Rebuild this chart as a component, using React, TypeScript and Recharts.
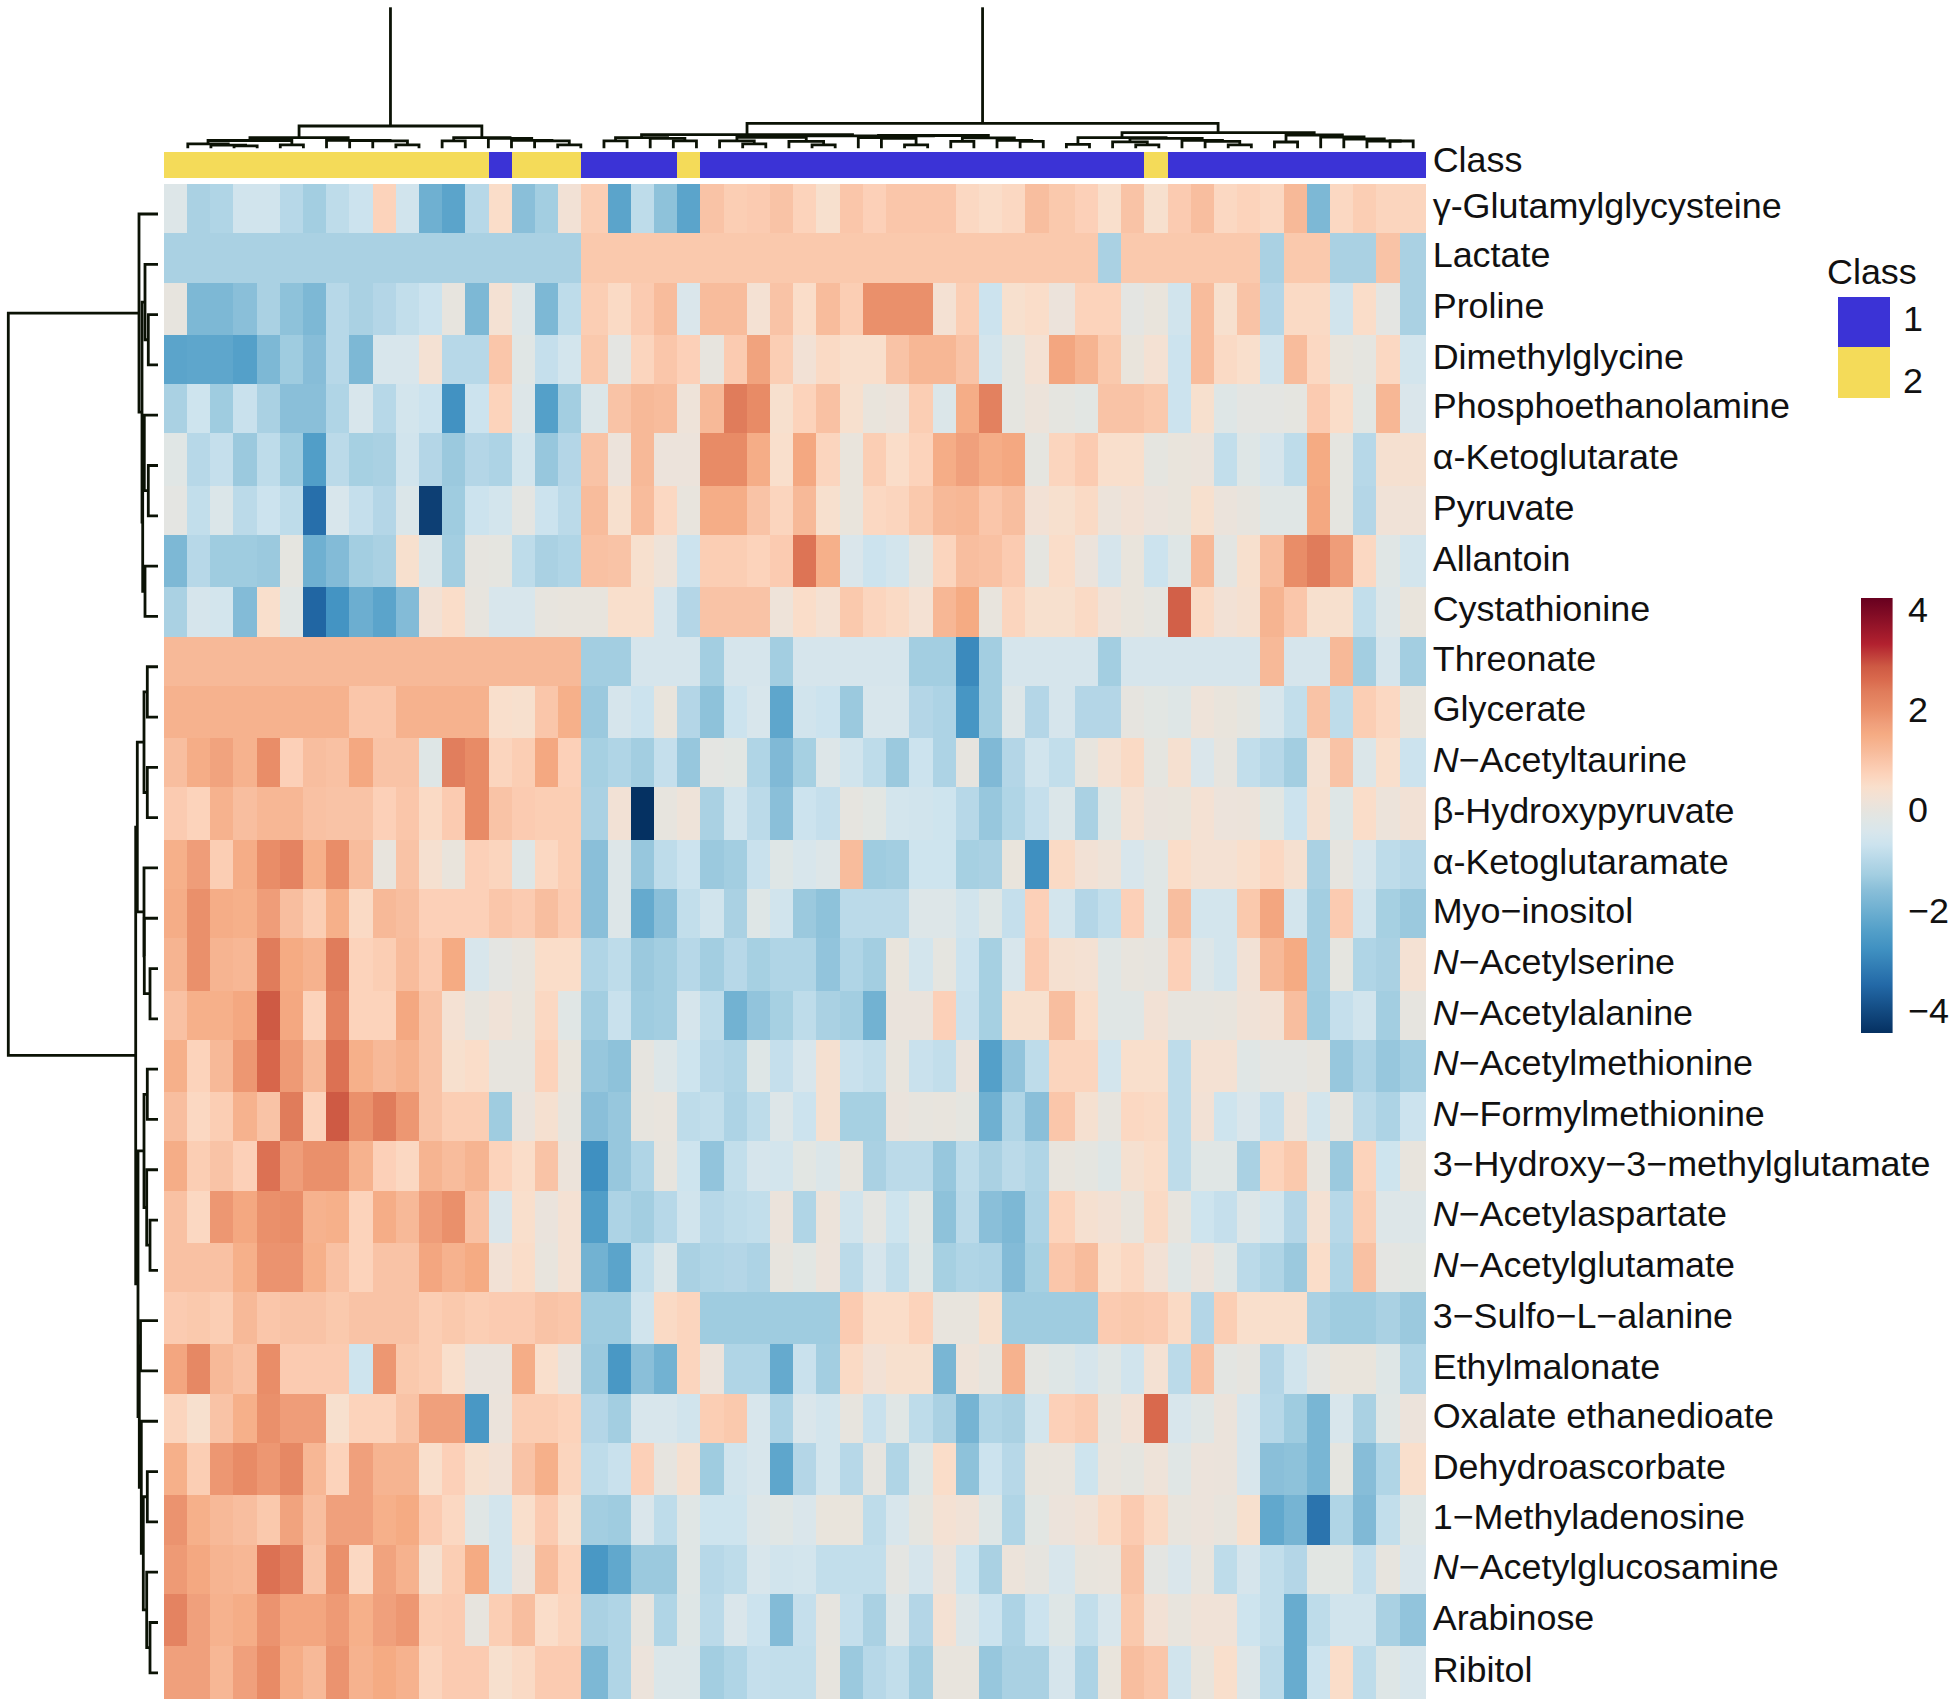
import React from "react";
import { ScatterChart, Scatter, XAxis, YAxis, ReferenceArea } from "recharts";

const rowNames = ["γ-Glutamylglycysteine","Lactate","Proline","Dimethylglycine","Phosphoethanolamine","α-Ketoglutarate","Pyruvate","Allantoin","Cystathionine","Threonate","Glycerate","N−Acetyltaurine","β-Hydroxypyruvate","α-Ketoglutaramate","Myo−inositol","N−Acetylserine","N−Acetylalanine","N−Acetylmethionine","N−Formylmethionine","3−Hydroxy−3−methylglutamate","N−Acetylaspartate","N−Acetylglutamate","3−Sulfo−L−alanine","Ethylmalonate","Oxalate ethanedioate","Dehydroascorbate","1−Methyladenosine","N−Acetylglucosamine","Arabinose","Ribitol"];

const classes = [2,2,2,2,2,2,2,2,2,2,2,2,2,2,1,2,2,2,1,1,1,1,2,1,1,1,1,1,1,1,1,1,1,1,1,1,1,1,1,1,1,1,2,1,1,1,1,1,1,1,1,1,1,1];

const r01 = [-.3,-1.2,-1.1,-.6,-.6,-1,-1.3,-.9,-.7,.7,-.6,-2,-2.3,-1,.5,-1.6,-1.3,.25,.8,-2.3,-.9,-1.55,-2.3,1,.8,.85,1,.7,.4,.95,.75,.95,.95,.95,.6,.5,.6,1.1,.9,.75,.45,1,.4,.85,1.1,.6,.7,.6,1.2,-1.8,.6,.8,.65,.65];
const r02 = [-1.2,-1.2,-1.2,-1.2,-1.2,-1.2,-1.2,-1.2,-1.2,-1.2,-1.2,-1.2,-1.2,-1.2,-1.2,-1.2,-1.2,-1.2,.9,.9,.9,.9,.9,.9,.9,.9,.9,.9,.9,.9,.9,.9,.9,.9,.9,.9,.9,.9,.9,.9,-1.2,.9,.9,.9,.9,.9,.9,-1.2,.9,.9,-1.2,-1.2,1,-1.2];
const r03 = [0,-1.8,-1.8,-1.6,-1.2,-1.55,-1.8,-1,-1.2,-1.05,-.85,-.7,0,-1.8,.3,-.3,-1.8,-.9,.8,.55,.85,1.15,-.4,1.15,1.15,.3,1,.5,1.15,.8,1.95,1.95,1.95,.3,.8,-.7,.4,.5,.1,.7,.7,-.1,.05,-.6,1.15,.4,1,-1.05,.55,.55,-.6,.5,-.1,-1.2];
const r04 = [-2.3,-2.25,-2.25,-2.4,-1.8,-1.35,-1.65,-1,-1.8,-.45,-.45,.3,-1,-1,.95,-.2,-.8,-.55,.9,-.1,.65,.95,.75,0,.85,1.65,.8,.25,.55,.45,.45,1,1.25,1.25,1,-.55,-.05,.3,1.6,1.3,.9,.05,.3,-.7,1.15,.55,.45,-.6,1.15,.6,.05,-.05,.6,-.55];
const r05 = [-1.2,-.65,-1.35,-.75,-1.2,-1.6,-1.6,-1.1,-.45,-1,-.55,-.7,-2.75,-.7,.7,-.3,-2.4,-1.3,-.35,1,1.2,1.15,.15,1.2,2.35,2.05,.4,.7,1.05,.4,.05,.12,.8,-.35,1.45,2.25,-.05,.12,-.05,-.15,1,1,.9,-.7,.4,-.25,-.1,-.1,-.05,.85,.5,-.15,1.25,-.4];
const r06 = [-.2,-1,-.8,-1.4,-.9,-1.35,-2.45,-.95,-1.25,-1.2,-.6,-1.05,-1.4,-1.05,-1.15,-.55,-1.45,-1.05,1,.1,1.2,.1,.1,2.05,2.05,1.45,.45,1.55,.65,.05,.8,.5,.7,1.45,1.7,1.45,1.55,-.05,.65,.85,.45,.45,-.05,.05,.08,-.85,-.25,-.5,-.9,1.5,-.05,-1,.35,.35];
const r07 = [-.1,-.85,-.35,-.95,-.7,-.9,-3.4,-.45,-.8,-1.05,-.35,-4.2,-1.35,-.7,-.55,-.1,-.7,-.95,1.15,.4,1.15,.6,.02,1.45,1.45,1,.65,1.2,.4,.05,.6,.65,.9,1.2,1.25,.95,1.1,.25,.4,.55,.12,.25,.1,.05,.4,.08,0,-.2,-.2,1.55,-.05,-1.05,.2,.2];
const r08 = [-1.8,-1,-1.35,-1.35,-1.4,-.05,-2,-1.7,-1.3,-1.2,.4,-.35,-1.3,-.02,-.05,-.9,-1.2,-1.1,1.05,1,.4,.15,-.7,.8,.8,.7,.85,2.45,1.4,-.4,-.7,-.55,0,.65,1.1,1.05,.85,-.05,.5,.1,-.5,.05,-.7,-.25,1.2,-.12,.4,1.1,2,2.35,1.75,.6,-.2,-.55];
const r09 = [-1.2,-.5,-.55,-1.7,.45,-.2,-3.55,-2.7,-2.05,-2.3,-1.7,.25,.5,0,-.45,-.45,0,.02,.02,.45,.45,-.5,-1.05,1,1,1,.15,.5,.3,.9,.65,.55,.3,1.25,1.5,.02,.65,.4,.4,.55,.2,.05,-.07,2.75,.55,.25,.35,1.3,.95,.4,.4,-.85,-.3,.05];
const r10 = [1.2,1.2,1.2,1.2,1.2,1.2,1.2,1.2,1.2,1.2,1.2,1.2,1.2,1.2,1.2,1.2,1.2,1.2,-1.3,-1.3,-.5,-.5,-.5,-1.3,-.5,-.5,-1.3,-.5,-.5,-.5,-.5,-.5,-1.3,-1.3,-2.9,-1.3,-.5,-.5,-.5,-.5,-1.3,-.5,-.5,-.5,-.5,-.5,-.5,1.2,-.5,-.5,1.2,-1.3,-.5,-1.3];
const r11 = [1.35,1.35,1.35,1.35,1.35,1.35,1.35,1.35,.95,.95,1.35,1.35,1.35,1.35,.45,.4,.95,1.4,-1.4,-.5,-.7,.05,-1.05,-1.55,-.7,-.45,-2.25,-.6,-.7,-1.4,-.45,-.45,-1.05,-1.15,-2.65,-1.3,-.3,-1.05,-.5,-1.05,-1.05,-.02,-.15,-.25,.15,.05,-.05,-.45,-.85,1,-.9,.8,.6,.05];
const r12 = [1.1,1.45,1.65,1.35,2,.75,1.1,1.05,1.55,1,1,-.25,2.3,2.05,.65,.8,1.55,.75,-1.25,-1.1,-1.3,-.8,-1.45,-.1,-.15,-1.1,-1.75,-1.25,-.3,-.6,-.9,-1.4,-.7,-1.15,-.02,-1.75,-1.05,-.6,-.85,0,.3,.55,-.05,.35,-.4,0,-.85,-1,-1.3,.3,1,-.35,.45,-.7];
const r13 = [.85,.7,1.35,1.1,1.25,1.25,1.05,1,1,.75,.95,.55,.85,2.05,1,.85,.8,.8,-1.2,.25,-4.45,0,.15,-1.2,-.6,-.95,-1.6,-.7,-.8,-.02,-.15,-.55,-.6,-.65,-1,-1.45,-1.1,-.8,-.35,-1.2,-.25,.3,.07,.05,.3,.1,.12,-.15,-.7,.35,-.25,.5,.12,.25];
const r14 = [1.4,1.75,.8,1.45,2,2.2,1.4,2,1.15,.03,1,.35,.05,.75,.65,-.25,.6,.8,-1.6,-.3,-1.45,-.9,-.7,-1.4,-1.3,-.75,-.25,-.45,-.3,1.15,-1.35,-1.3,-.65,-.65,-1.25,-1.2,.05,-2.8,.55,.25,.15,-.45,-.2,.5,.3,.3,.45,.6,.35,-1.2,-.03,-.45,-.9,-1];
const r15 = [1.45,1.95,1.45,1.4,1.75,1.1,.8,1.4,.55,1.2,1.1,.75,.75,.75,.95,.85,1.1,.85,-1.6,-.3,-2.15,-1.6,-.85,-.6,-1.2,-.25,-.6,-1.4,-1.55,-.95,-.95,-.95,-.3,-.3,-.6,-.25,-.8,.75,-.55,-1.05,-.85,.75,-.2,1.1,-.55,-.55,.9,1.6,-.55,-1.3,.85,-.6,-1.25,-1.4];
const r16 = [1.3,1.95,1.3,1.25,2.35,1.5,1.35,2.35,.7,.8,1.15,.85,1.5,-.45,-.1,.03,.5,.5,-1.1,-.9,-1.4,-1.3,-1,-1.3,-1,-1.25,-1.1,-1.1,-1.5,-1.1,-1.3,.05,-.55,-.05,-.7,-1.25,-.45,.85,.35,.3,-.2,.03,-.03,.75,-.3,-.55,.25,1.2,1.5,-1.3,-.07,-1.1,-1.2,.3];
const r17 = [1.05,1.4,1.4,1.55,2.85,1.55,.7,2.2,.7,.7,1.55,1,.3,.02,.2,.05,.6,-.2,-1.3,-.75,-1.35,-1.3,-.5,-.9,-1.95,-1.5,-1.25,-.9,-1.2,-1.3,-1.95,.07,.07,.75,-.75,-1.25,.4,.4,1.1,.5,-.2,-.2,.25,.01,.01,.03,.2,.25,1.1,-1.35,-.8,-.6,-1.3,-.03];
const r18 = [1.4,.7,1.2,1.85,2.65,1.8,1.2,2.5,1.4,1.2,1.35,1,.4,.5,-.01,-.01,.7,.05,-1.45,-1.55,-.03,-.3,-.65,-1,-1.1,-.25,-.8,-.45,.35,-.75,-.85,.03,-.75,-.85,.1,-2.4,-1.5,-.9,.65,.65,-.55,.45,.45,-.9,.3,.3,-.2,-.1,-.1,0,-1.45,-1.15,-1.45,-1.3];
const r19 = [1.1,.6,.8,1.35,1,2.35,.7,2.85,1.95,2.35,1.85,1,.8,.8,-1.35,.07,.35,0,-1.6,-1.45,0,.04,-.9,-.85,-1.15,-.9,-.3,-.7,.35,-1.25,-1.25,.07,0,.02,-.05,-2,-1.1,-1.6,.95,.35,.01,.6,.55,-.9,.25,-.65,-.4,-.8,.12,-.55,-.02,-.95,-1.15,-.7];
const r20 = [1.45,.8,1,.75,2.5,1.75,1.95,1.95,1.35,.75,.6,1.3,1.15,1.3,.7,.5,1,.12,-2.8,-1.45,-1.1,.01,-.65,-1.5,-.85,-.5,-.55,-.15,-.35,0,-1.2,-.95,-.95,-1.45,-.9,-1.2,-.95,-1.1,.03,-.05,-.25,.35,.5,-.9,-.2,-.2,-1.2,.7,.9,0,-1.4,.7,-.65,.03];
const r21 = [1.05,.6,1.85,1.55,1.95,2,1.35,1.4,.7,1.45,1.2,1.75,1.95,1.05,-.4,.45,.07,.3,-2.45,-1.15,-1.3,-1,-.6,-1,-.9,-.85,.08,-1.1,.12,-.6,-.1,-.65,-.2,-1.55,-.95,-1.6,-1.8,-1.15,.7,.35,.25,.03,.55,0,-.65,-.8,-.3,-.55,-1.05,.3,-1,.8,-.3,-.3];
const r22 = [1.05,1.05,1.05,1.4,1.9,1.9,1.4,1.05,.7,1,1,1.6,1.35,1.5,.25,.5,.03,.3,-1.95,-2.3,-.85,-.35,-1.2,-1.1,-1.05,-1.15,0,-.15,.1,-.95,-.5,-.85,-.25,-1.25,-1.1,-1.15,-1.7,-1.25,.95,1.15,.45,.6,.25,-.2,.1,-.2,-.95,-1.1,-1.4,.5,-1.1,1.05,-.1,-.15];
const r23 = [.85,.9,.8,1.2,.95,1,1,.9,1,1,1,.8,.9,.8,.85,.85,1,.95,-1.35,-1.35,-.6,.55,.65,-1.35,-1.35,-1.35,-1.35,-1.35,-1.35,.85,.5,.5,.7,.03,.03,.4,-1.35,-1.35,-1.35,-1.35,.85,.9,.85,.55,-1.05,.8,.45,.45,.45,-1.2,-1.35,-1.35,-1.2,-1.4];
const r24 = [1.6,2.1,1.2,1.05,2,.85,.85,.85,-.65,1.85,.9,.8,.45,.07,.07,1.45,.45,.07,-1.4,-2.6,-1.6,-1.95,.65,.1,-1.1,-1.1,-2.15,-.75,-1.3,.55,.25,.4,.4,-1.85,.15,0,1.35,-.08,-.25,-.5,-.2,-.6,.3,-.95,1.05,-.12,-.02,-1.05,-.6,-.1,.05,.05,-.25,-1.1];
const r25 = [.65,.4,1,1.4,1.95,1.75,1.75,.4,.7,.7,1,1.7,1.7,-2.6,.08,.8,.8,.7,-1.05,-1.3,-.45,-.45,-.6,.8,.9,-.45,-1.15,-.4,-.55,0,-.75,-.2,-.9,-1.2,-1.9,-1.1,-1.2,-.55,.75,.85,0,.25,2.6,-.45,-.2,.08,-.45,-1,-1.35,-1.85,-.45,-1.2,-.2,.1];
const r26 = [1.4,.8,1.85,2.05,1.85,2.1,1.25,.7,1.7,1.3,1.3,.45,.75,.4,.25,1,1.4,.65,-.9,-.75,.75,-.03,.35,-1.35,-.6,-.45,-2.25,-1.05,-.55,-1,-.03,-1.1,-.25,.5,-1.55,-.7,-1,.02,.04,-.65,.04,-.05,.15,-.2,.1,.08,-.45,-1.6,-1.55,-1.85,-.07,-1.65,-1.1,.45];
const r27 = [1.9,1.4,1.2,1.1,.9,1.65,1.1,1.7,1.7,1.4,1.5,.85,.6,-.2,-.55,.45,.85,.45,-1.3,-1.35,-.4,-.9,-.2,-.65,-.65,-.3,-.2,-.4,.05,.05,-.9,-.45,-.05,.3,.2,-.25,-1.1,-.15,.1,.2,.55,.85,.55,.02,.1,.02,.4,-2.2,-1.9,-3.3,-1.1,-1.75,-.85,-.25];
const r28 = [1.8,1.55,1.3,1.25,2.5,2.3,1,1.95,.6,1.65,1.35,.35,.8,1.5,-.55,.1,1.15,.7,-2.6,-2.2,-1.4,-1.4,-.2,-1,-.9,-.45,-.6,-.55,-.85,-.85,-.85,-.1,-.5,.1,-.65,-1.2,.12,-.03,-.45,.02,.04,1,-.1,-.4,.04,-.9,-.5,-.85,-1.05,-.15,-.15,-.8,0,-.4];
const r29 = [2.2,1.7,1.35,1.45,1.9,1.6,1.6,1.8,1.4,1.7,1.85,.8,.85,0,.8,1.1,.5,.65,-1.2,-1.1,-.02,-1.1,-.25,-.95,-.4,-.7,-1.7,-.8,-.03,-.8,-1.2,-.3,-1.05,.3,-.3,-.7,-1.15,-.7,-.25,-.85,-.45,.9,.25,.02,.2,.2,-.65,-.85,-2.1,-.9,-.6,-.6,-1.2,-1.5];
const r30 = [1.7,1.7,1.25,1.7,2.05,1.45,1.2,1.9,1.35,1.5,1.35,.65,.85,.85,.4,.55,.85,.85,-1.8,-1.1,.1,-.35,-.35,-1.3,-1.1,-.8,-.85,-.85,.01,-1.4,-1,-.85,-1.3,.03,.03,-1.45,-1.2,-1.2,-.5,-1.15,.05,1.1,.95,-.6,.05,.45,-.3,-.95,-2.1,-.7,.5,-.9,-.25,-.45];
const rowValues = [r01,r02,r03,r04,r05,r06,r07,r08,r09,r10,r11,r12,r13,r14,r15,r16,r17,r18,r19,r20,r21,r22,r23,r24,r25,r26,r27,r28,r29,r30];

type Tree = number | [number, Tree, Tree];
const colLeftCluster: Tree = [22.3,
  [10.6,[7.8,[4.5,1,[3.2,2,[2.5,3,4]]],[3.5,5,6]],[8,7,[7.8,8,[7.5,9,[3.5,10,11]]]]],
  [10.6,[7.5,12,13],[10,14,[8,15,[7.5,16,[3.5,17,18]]]]]];
const colRightCluster: Tree = [25,
  [13.6,
    [10.6,[7.5,19,20],[10,21,[7.5,22,23]]],
    [12.5,
      [11,[7.5,24,[4.5,25,26]],[7,27,[3.5,28,29]]],
      [12.8,[10.8,30,[10,31,[3.5,32,33]]],[10.5,[7,34,35],[8,36,[7,37,38]]]]]],
  [15.7,
    [10.6,[4,39,40],[10,[6.5,41,[3.5,42,43]],[8,44,[7,45,[3.5,46,47]]]]],
    [13.3,[6.3,48,49],[11.3,50,[9.3,51,[7.3,52,[7.3,53,54]]]]]]];
const rowTree: Tree = [149.7,
  [19,1,[16,[13,2,[9.7,3,4]],[15.3,[13.7,5,[9.7,6,7]],[13,8,9]]]],
  [22.3,
    [20.7,[14,[10.7,10,11],[10.7,12,13]],[14,14,[13.7,15,[8,16,17]]]],
    [20,[14,[10.7,18,19],[11.3,20,[8,21,22]]],
      [18.7,[17.5,23,24],[16.7,25,[14.7,[10.7,26,27],[11.3,28,[8,29,30]]]]]]]];
const STEM_HEIGHT = 141;

const paletteStops: [number, string][] = [[-4.46,"#053061"],[-3.5,"#2369A7"],[-2.8,"#3F90C1"],[-2.4,"#54A0C9"],[-2,"#6FB0D1"],[-1.6,"#8ABFD9"],[-1.3,"#A3CEE1"],[-1,"#B7D8E8"],[-.7,"#CCE3EE"],[-.45,"#D8E6EC"],[-.2,"#E0E6E5"],[0,"#E7E4DE"],[.2,"#F0E2D7"],[.45,"#F9DFCC"],[.7,"#FCD3BB"],[.95,"#FAC6AA"],[1.2,"#F7B998"],[1.5,"#F5AB83"],[1.7,"#F0A07C"],[2,"#E98D68"],[2.35,"#E07C5B"],[2.6,"#D9694D"],[2.85,"#CE5A44"],[3.3,"#B2212F"],[4.22,"#67001F"]];
const classColors: Record<number,string> = {1:"#3B33D6",2:"#F4DB59"};
const colorTicks = [-4,-2,0,2,4];
const INK = "#0b1205";
const FONT = "'Liberation Sans', Arial, sans-serif";
const FS = 35.9;

// the reference raster has a few slightly wider rows and columns
const wideCols = [19,39,54];
const wideRows = [3,6,8,11,13,16,18,21,23,26,29,30];
const colWidths = classes.map((_,i)=>wideCols.includes(i+1)?26.1:23.21);
const rowHeights = rowNames.map((_,i)=>wideRows.includes(i+1)?52.25:49.3);
function centers(sizes:number[]){let a=0;return sizes.map(s=>{const c=a+s/2;a+=s;return c;});}
const colCenters = centers(colWidths);
const rowCenters = centers(rowHeights);
const TOTAL_W = colWidths.reduce((a,b)=>a+b,0);
const TOTAL_H = rowHeights.reduce((a,b)=>a+b,0);
const PLOT_L = 163.7;
const RIGHT_GAP = 1957-PLOT_L-TOTAL_W-500;

function hex(c: string){return [1,3,5].map(i=>parseInt(c.slice(i,i+2),16));}
function colorOf(v: number){
  const s = paletteStops;
  if (v<=s[0][0]) return s[0][1];
  for (let i=1;i<s.length;i++){
    if (v<=s[i][0]){
      const t=(v-s[i-1][0])/(s[i][0]-s[i-1][0]);
      const a=hex(s[i-1][1]),b=hex(s[i][1]);
      return `rgb(${a.map((x,k)=>Math.round(x+(b[k]-x)*t)).join(",")})`;
    }
  }
  return s[s.length-1][1];
}

type Seg = {x:number;y:number}[];
function walk(t: Tree, out: Seg[]): [number, number] {
  if (typeof t === "number") return [t, 0];
  const [h,l,r]=t;
  const [lp,lh]=walk(l,out);
  const [rp,rh]=walk(r,out);
  out.push([{x:lp,y:lh},{x:lp,y:h},{x:rp,y:h},{x:rp,y:rh}]);
  return [(lp+rp)/2,h];
}
const colSegs: Seg[] = [];
for (const c of [colLeftCluster,colRightCluster]) {
  const [p,h]=walk(c,colSegs);
  colSegs.push([{x:p,y:h},{x:p,y:STEM_HEIGHT}]);
}
const rowSegsRaw: Seg[] = [];
walk(rowTree,rowSegsRaw);
const rowSegs = rowSegsRaw.map(s=>s.map(p=>({x:p.y,y:p.x})));

const heatCells = rowValues.flatMap((vals,r)=>vals.map((v,c)=>({x:colCenters[c],y:rowCenters[r],value:v,w:colWidths[c],h:rowHeights[r]})));
const classCells = classes.map((k,c)=>({x:colCenters[c],y:.5,value:k,w:colWidths[c]}));
const legendCells = [1,2].map(k=>({x:.5,y:k,value:k}));
const colorMarks = colorTicks.map(t=>({x:.5,y:t}));

const HeatCell = (p:any)=>{
  const {w,h,value}=p.payload;
  return <rect x={p.cx-w/2} y={p.cy-h/2} width={w+.5} height={h+.5} fill={colorOf(value)} shapeRendering="crispEdges" />;
};
const ClassCell = (p:any)=>(
  <rect x={p.cx-p.payload.w/2} y={p.cy-13} width={p.payload.w+.5} height={26} fill={classColors[p.payload.value]} shapeRendering="crispEdges" />
);
const LegendCell = (p:any)=>(
  <rect x={p.cx-26} y={p.cy-25.4} width={52} height={50.8} fill={classColors[p.payload.value]} shapeRendering="crispEdges" />
);
const NoDot = ()=><g/>;

function labelParts(name:string){
  if (name.startsWith("N−")) return <><tspan fontStyle="italic">N</tspan>{name.slice(1)}</>;
  return name;
}
const RowTick = (p:any)=>{
  const i = rowCenters.indexOf(p.payload.value);
  return <text x={p.x-1} y={p.y+9.5} fontFamily={FONT} fontSize={FS} fill="#111">{labelParts(rowNames[i])}</text>;
};
const ClassTick = (p:any)=>(
  <text x={p.x-1} y={p.y+6.7} fontFamily={FONT} fontSize={FS} fill="#111">Class</text>
);
const LegendTick = (p:any)=>(
  <text x={p.x+5} y={p.y+(p.payload.value===1?9:20)} fontFamily={FONT} fontSize={FS} fill="#111">{p.payload.value}</text>
);
const ColorTick = (p:any)=>(
  <text x={p.x+7.5} y={p.y+12.9} fontFamily={FONT} fontSize={FS} fill="#111">{String(p.payload.value).replace("-","−")}</text>
);

const box = (left:number,top:number):React.CSSProperties=>({position:"absolute",left,top});

export default function App(){
  return (
    <div style={{position:"absolute",left:0,top:0,width:1957,height:1708,background:"#fff",overflow:"hidden"}}>
      <div style={box(160,0)}>
        <ScatterChart width={1280} height={152} margin={{top:0,right:0,bottom:0,left:0}}>
          <XAxis type="number" dataKey="x" domain={[-0.2024,55.16]} hide allowDataOverflow/>
          <YAxis type="number" dataKey="y" domain={[-3.7,148.3]} hide allowDataOverflow/>
          {colSegs.map((s,i)=>(
            <Scatter key={i} data={s} line={{stroke:INK,strokeWidth:2.8}} lineType="joint" shape={NoDot} isAnimationActive={false}/>
          ))}
        </ScatterChart>
      </div>
      <div style={box(0,140)}>
        <ScatterChart width={1957} height={44} margin={{top:12,right:RIGHT_GAP,bottom:6,left:PLOT_L}}>
          <XAxis type="number" dataKey="x" domain={[0,TOTAL_W]} hide/>
          <YAxis type="number" dataKey="y" domain={[0,1]} orientation="right" width={500} ticks={[.5]} axisLine={false} tickLine={false} tick={ClassTick} interval={0}/>
          <Scatter data={classCells} shape={ClassCell} isAnimationActive={false}/>
        </ScatterChart>
      </div>
      <div style={box(0,180)}>
        <ScatterChart width={1957} height={1528} margin={{top:4,right:RIGHT_GAP,bottom:1528-4-TOTAL_H,left:PLOT_L}}>
          <XAxis type="number" dataKey="x" domain={[0,TOTAL_W]} hide/>
          <YAxis type="number" dataKey="y" domain={[0,TOTAL_H]} reversed orientation="right" width={500} ticks={rowCenters} axisLine={false} tickLine={false} tick={RowTick} interval={0}/>
          <Scatter data={heatCells} shape={HeatCell} isAnimationActive={false}/>
        </ScatterChart>
      </div>
      <div style={box(0,180)}>
        <ScatterChart width={160} height={1528} margin={{top:0,right:0,bottom:0,left:0}}>
          <XAxis type="number" dataKey="x" domain={[-2,158]} reversed hide allowDataOverflow/>
          <YAxis type="number" dataKey="y" domain={[0.324,30.7]} reversed hide allowDataOverflow/>
          {rowSegs.map((s,i)=>(
            <Scatter key={i} data={s} line={{stroke:INK,strokeWidth:2.8}} lineType="joint" shape={NoDot} isAnimationActive={false}/>
          ))}
        </ScatterChart>
      </div>
      <div style={box(1800,250)}>
        <ScatterChart width={157} height={160} margin={{top:46.7,right:0,bottom:12,left:38}}>
          <XAxis type="number" dataKey="x" domain={[0,1]} hide/>
          <YAxis type="number" dataKey="y" domain={[.5,2.5]} reversed orientation="right" width={67} ticks={[1,2]} axisLine={false} tickLine={false} tick={LegendTick} interval={0}/>
          <Scatter data={legendCells} shape={LegendCell} isAnimationActive={false}/>
          <text x={27} y={34} fontFamily={FONT} fontSize={FS} fill="#111">Class</text>
        </ScatterChart>
      </div>
      <div style={box(1852,590)}>
        <ScatterChart width={105} height={450} margin={{top:8,right:0,bottom:7,left:9}}>
          <defs>
            <linearGradient id="cbar" x1="0" y1="0" x2="0" y2="1">
              {[...paletteStops].reverse().map(([v,c])=>(
                <stop key={v} offset={(4.22-v)/8.68} stopColor={c}/>
              ))}
            </linearGradient>
          </defs>
          <XAxis type="number" dataKey="x" domain={[0,1]} hide/>
          <YAxis type="number" dataKey="y" domain={[-4.46,4.22]} orientation="right" width={64.4} ticks={colorTicks} axisLine={false} tickLine={false} tick={ColorTick} interval={0}/>
          <ReferenceArea x1={0} x2={1} y1={-4.46} y2={4.22} fill="url(#cbar)" fillOpacity={1} stroke="none" ifOverflow="visible"/>
          <Scatter data={colorMarks} shape={NoDot} isAnimationActive={false}/>
        </ScatterChart>
      </div>
    </div>
  );
}
